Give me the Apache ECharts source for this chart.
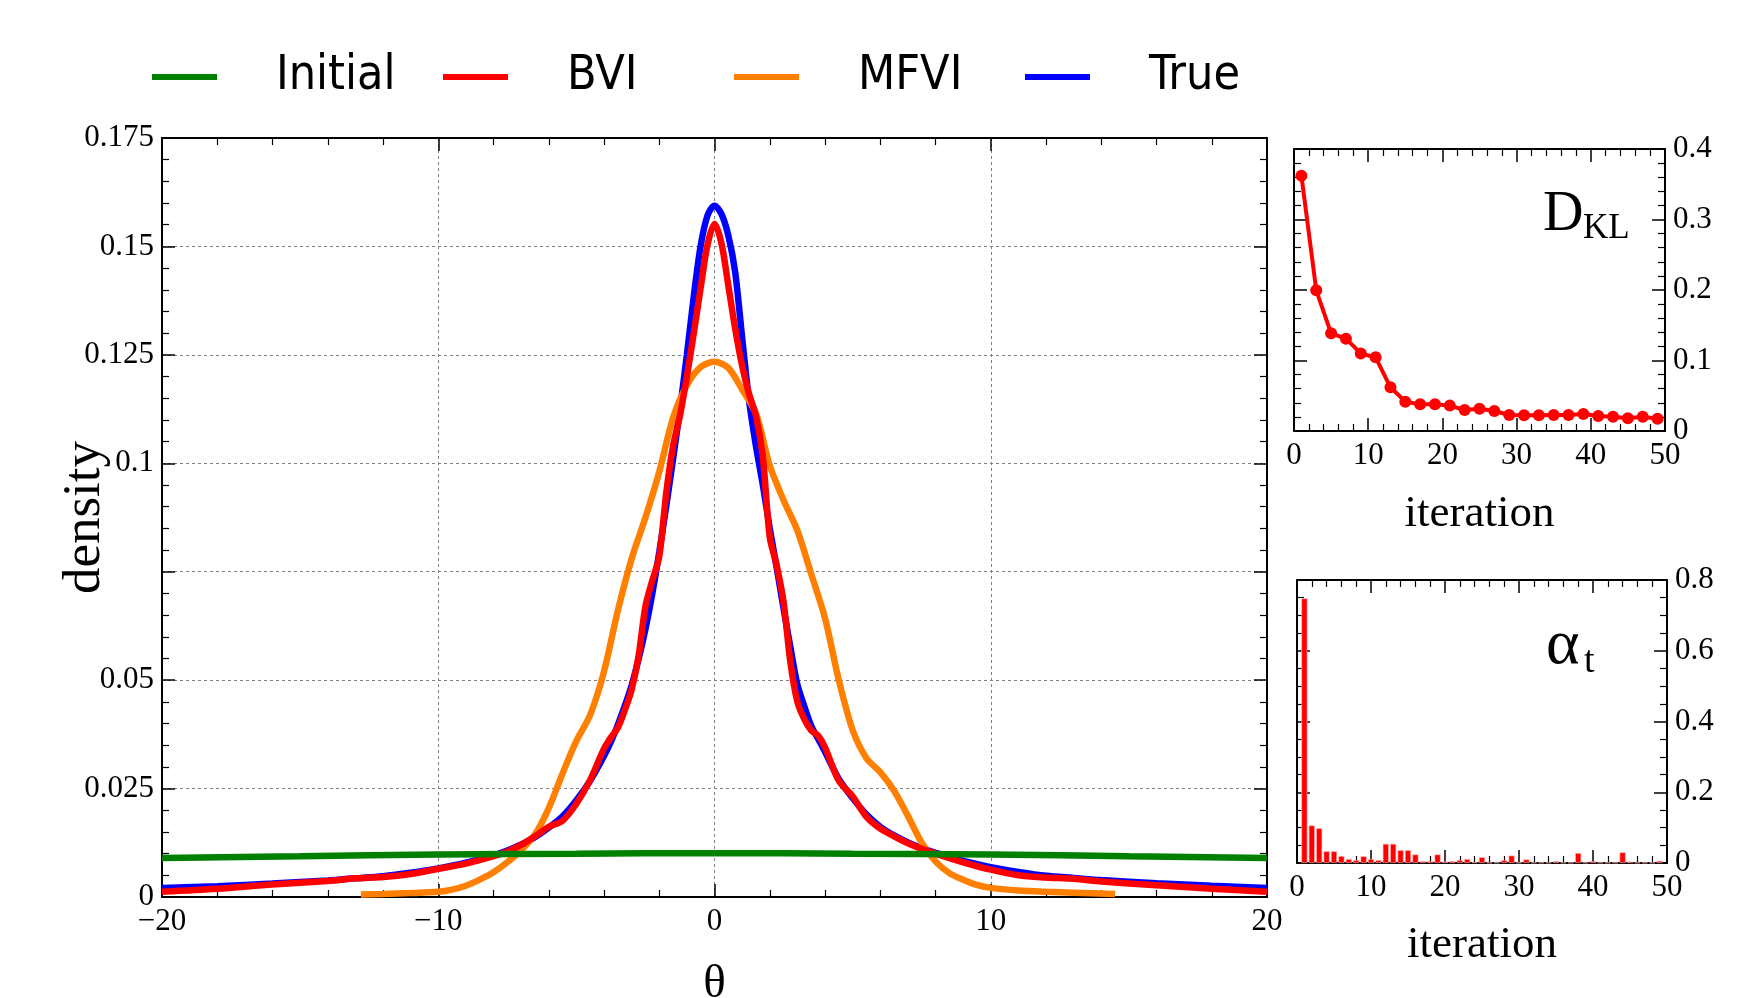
<!DOCTYPE html>
<html><head><meta charset="utf-8">
<script src="https://cdn.jsdelivr.net/npm/echarts@6/dist/echarts.min.js"></script>
<style>html,body{margin:0;padding:0;background:#fff}#c{width:1764px;height:998px}</style>
</head><body><div id="c"></div>
<script>
// ---------- data ----------
const thetaGrid = [-20,-18,-16,-14,-13,-12,-11,-10,-9,-8,-7.5,-7,-6.5,-6,-5.5,-5,-4.5,-4,-3.75,-3.5,-3.25,-3,-2.75,-2.5,-2.25,-2,-1.75,-1.5,-1.25,-1,-0.75,-0.5,-0.25,0,0.25,0.5,0.75,1,1.25,1.5,1.75,2,2.25,2.5,2.75,3,3.25,3.5,3.75,4,4.5,5,5.5,6,6.5,7,7.5,8,9,10,11,12,13,14,16,18,20];
const trueDensity = [0.0021,0.0025,0.0031,0.0038,0.0043,0.0048,0.0056,0.0066,0.0079,0.0096,0.0107,0.0121,0.0138,0.0160,0.0186,0.0223,0.0268,0.0325,0.0358,0.0397,0.0440,0.0488,0.0548,0.0618,0.0700,0.0795,0.0900,0.1010,0.1125,0.1250,0.1385,0.1502,0.1572,0.1594,0.1575,0.1525,0.1440,0.1290,0.1145,0.1040,0.0950,0.0850,0.0760,0.0665,0.0575,0.0490,0.0440,0.0395,0.0365,0.0335,0.0272,0.0228,0.0190,0.0162,0.0142,0.0126,0.0113,0.0102,0.0083,0.0069,0.0058,0.0049,0.0044,0.0039,0.0032,0.0026,0.0021];
const bviDensity = [0.0012,0.0019,0.0029,0.0037,0.0043,0.0046,0.0053,0.0065,0.0077,0.0094,0.0105,0.0120,0.0140,0.0162,0.0176,0.0215,0.0270,0.0342,0.0368,0.0390,0.0430,0.0478,0.0555,0.0670,0.0730,0.0785,0.0930,0.1040,0.1110,0.1200,0.1300,0.1405,0.1505,0.1552,0.1508,0.1410,0.1310,0.1225,0.1160,0.1110,0.1015,0.0830,0.0765,0.0680,0.0540,0.0450,0.0410,0.0384,0.0372,0.0345,0.0268,0.0232,0.0185,0.0158,0.0140,0.0124,0.0111,0.0100,0.0080,0.0063,0.0050,0.0045,0.0042,0.0036,0.0027,0.0019,0.0012];
const mfviTheta = [-12.8,-12,-11,-10,-9.5,-9,-8.5,-8,-7.5,-7,-6.5,-6,-5.5,-5,-4.5,-4,-3.5,-3,-2.5,-2,-1.5,-1,-0.5,0,0.5,1,1.5,2,2.5,3,3.5,4,4.5,5,5.5,6,6.5,7,7.5,8,8.5,9,9.5,10,11,12,13,14.5];
const mfviDensity = [0.0006,0.0007,0.0009,0.0012,0.0017,0.0026,0.0040,0.0057,0.0080,0.0108,0.0144,0.0205,0.0285,0.0360,0.0420,0.0520,0.0660,0.0780,0.0875,0.0980,0.1105,0.1180,0.1222,0.1234,0.1220,0.1170,0.1115,0.0995,0.0915,0.0845,0.0745,0.0643,0.0500,0.0385,0.0320,0.0288,0.0245,0.0187,0.0125,0.0082,0.0055,0.0040,0.0028,0.0021,0.0015,0.0012,0.0010,0.0007];
const initialTheta = [-20,-15,-10,-5,0,5,10,15,20];
const initialDensity = [0.0090,0.0094,0.0098,0.0100,0.0101,0.0100,0.0098,0.0094,0.0090];
const klIter = [1,3,5,7,9,11,13,15,17,19,21,23,25,27,29,31,33,35,37,39,41,43,45,47,49];
const klValues = [0.362,0.1995,0.1385,0.131,0.110,0.1045,0.062,0.0416,0.0378,0.0378,0.036,0.0298,0.0317,0.0284,0.0227,0.0222,0.0222,0.0227,0.0227,0.0241,0.0213,0.0203,0.018,0.0203,0.0175];
const alphaIter = [1,2,3,4,5,6,7,8,9,10,11,12,13,14,15,16,17,18,19,20,21,22,23,24,25,26,27,28,29,30,31,32,33,34,35,36,37,38,39,40,41,42,43,44,45,46,47,48,49];
const alphaValues = [0.748,0.106,0.098,0.033,0.033,0.019,0.011,0.008,0.019,0.011,0.008,0.054,0.054,0.036,0.036,0.024,0.005,0.005,0.024,0.004,0.005,0.008,0.011,0.002,0.016,0.001,0.001,0.008,0.021,0.001,0.010,0.001,0.001,0.001,0.005,0.001,0.001,0.028,0.001,0.005,0.001,0.001,0.001,0.030,0.004,0.001,0.001,0.001,0.006];
const xTickLabels = ['\u221220','\u221210','0','10','20'];
const yTickLabels = ['0','0.025','0.05','','0.1','0.125','0.15','0.175'];
const legendNames = ['Initial','BVI','MFVI','True'];
const seriesColors = {Initial:'#008000', BVI:'#ff0000', MFVI:'#ff8000', True:'#0000ff'};

// ---------- helpers ----------
const SERIF = '"Liberation Serif", "Times New Roman", serif';
const SANS = '"Liberation Sans Narrow", "DejaVu Sans Condensed", "Liberation Sans", sans-serif';
const zip = (a, b) => a.map((v, i) => [v, b[i]]);
const dashed = {show:true, lineStyle:{color:'#808080', type:[3,3], width:1}};

function axisBase(extra) {
  return Object.assign({
    type:'value',
    nameMoveOverlap:false,
    axisLine:{show:true, onZero:false, lineStyle:{color:'#000', width:2}},
    axisTick:{show:true, inside:true, length:13, lineStyle:{color:'#000', width:1.5}},
    minorTick:{show:true, splitNumber:5, length:7, lineStyle:{color:'#000', width:1.2}},
    splitLine:{show:false},
    axisLabel:{show:false},
  }, extra);
}
const labelStyle = {show:true, fontFamily:SERIF, fontSize:31, color:'#000', showMinLabel:true, showMaxLabel:true};

const chart = echarts.init(document.getElementById('c'), null, {renderer:'canvas'});

const legends = legendNames.map((n, i) => ({
  data:[n], left:152 + i*291, top:53, padding:0, orient:'horizontal',
  icon:'rect', itemWidth:65, itemHeight:6,
  textStyle:{fontFamily:SANS, fontSize:48, color:'#000', padding:[0,0,0,54]},
}));

function curve(name, data, z) {
  return {
    name, type:'line', xAxisIndex:0, yAxisIndex:0, data, showSymbol:false, smooth:0.3, z,
    lineStyle:{color:seriesColors[name], width:6.5}, itemStyle:{color:seriesColors[name]},
    emphasis:{disabled:true}, animation:false,
  };
}
const gridBase = {containLabel:false, outerBoundsMode:'none'};

chart.setOption({
  backgroundColor:'#fff',
  animation:false,
  legend: legends,
  grid:[
    Object.assign({left:162, top:138, width:1105, height:759}, gridBase),
    Object.assign({left:1294, top:149, width:371, height:282}, gridBase),
    Object.assign({left:1297, top:580, width:370, height:283}, gridBase),
  ],
  xAxis:[
    axisBase({gridIndex:0, position:'bottom', min:-20, max:20, interval:10, splitLine:dashed,
      axisLabel:Object.assign({}, labelStyle, {margin:9, formatter:(v)=>xTickLabels[Math.round((v+20)/10)]}),
      name:'\u03b8', nameLocation:'middle', nameGap:64, nameTextStyle:{fontFamily:SERIF, fontSize:47, color:'#000'}}),
    axisBase({gridIndex:0, position:'top', min:-20, max:20, interval:10}),
    axisBase({gridIndex:1, position:'bottom', min:0, max:50, interval:10,
      axisLabel:Object.assign({}, labelStyle, {margin:9}),
      name:'iteration', nameLocation:'middle', nameGap:61, nameTextStyle:{fontFamily:SERIF, fontSize:45, color:'#000'}}),
    axisBase({gridIndex:1, position:'top', min:0, max:50, interval:10}),
    axisBase({gridIndex:2, position:'bottom', min:0, max:50, interval:10,
      axisLabel:Object.assign({}, labelStyle, {margin:9}),
      name:'iteration', nameLocation:'middle', nameGap:60, nameTextStyle:{fontFamily:SERIF, fontSize:45, color:'#000'}}),
    axisBase({gridIndex:2, position:'top', min:0, max:50, interval:10}),
  ],
  yAxis:[
    axisBase({gridIndex:0, position:'left', min:0, max:0.175, interval:0.025, splitLine:dashed,
      axisLabel:Object.assign({}, labelStyle, {margin:8, formatter:(v)=>yTickLabels[Math.round(v/0.025)]}),
      name:'density', nameLocation:'middle', nameGap:50, nameTextStyle:{fontFamily:SERIF, fontSize:53, color:'#000'}}),
    axisBase({gridIndex:0, position:'right', min:0, max:0.175, interval:0.025}),
    axisBase({gridIndex:1, position:'right', min:0, max:0.4, interval:0.1,
      axisLabel:Object.assign({}, labelStyle, {margin:8})}),
    axisBase({gridIndex:1, position:'left', min:0, max:0.4, interval:0.1}),
    axisBase({gridIndex:2, position:'right', min:0, max:0.8, interval:0.2, minorTick:{show:true, splitNumber:4, length:7, lineStyle:{color:'#000', width:1.2}},
      axisLabel:Object.assign({}, labelStyle, {margin:8})}),
    axisBase({gridIndex:2, position:'left', min:0, max:0.8, interval:0.2, minorTick:{show:true, splitNumber:4, length:7, lineStyle:{color:'#000', width:1.2}}}),
  ],
  series:[
    curve('True', zip(thetaGrid, trueDensity), 2),
    curve('MFVI', zip(mfviTheta, mfviDensity), 3),
    curve('BVI', zip(thetaGrid, bviDensity), 4),
    Object.assign(curve('Initial', zip(initialTheta, initialDensity), 5), {smooth:true}),
    {
      name:'DKL', type:'line', xAxisIndex:2, yAxisIndex:2, data:zip(klIter, klValues),
      symbol:'circle', symbolSize:12, lineStyle:{color:'#ff0000', width:4}, itemStyle:{color:'#ff0000'},
      emphasis:{disabled:true},
    },
    {
      name:'alpha', type:'bar', xAxisIndex:4, yAxisIndex:4, data:zip(alphaIter, alphaValues),
      barWidth:6, itemStyle:{color:'#ff0000', borderColor:'#ffb0b0', borderWidth:0.6},
      emphasis:{disabled:true},
    },
  ],
  graphic:[
    {type:'text', x:1543, y:243, style:{text:'D', fontFamily:SERIF, fontSize:56, fill:'#000', align:'left', verticalAlign:'bottom'}},
    {type:'text', x:1583, y:246, style:{text:'KL', fontFamily:SERIF, fontSize:35, fill:'#000', align:'left', verticalAlign:'bottom'}},
    {type:'text', x:1546, y:678, style:{text:'\u03b1', fontFamily:SERIF, fontSize:64, fill:'#000', align:'left', verticalAlign:'bottom'}},
    {type:'text', x:1584, y:681, style:{text:'t', fontFamily:SERIF, fontSize:38, fill:'#000', align:'left', verticalAlign:'bottom'}},
  ],
});
</script>
</body></html>
